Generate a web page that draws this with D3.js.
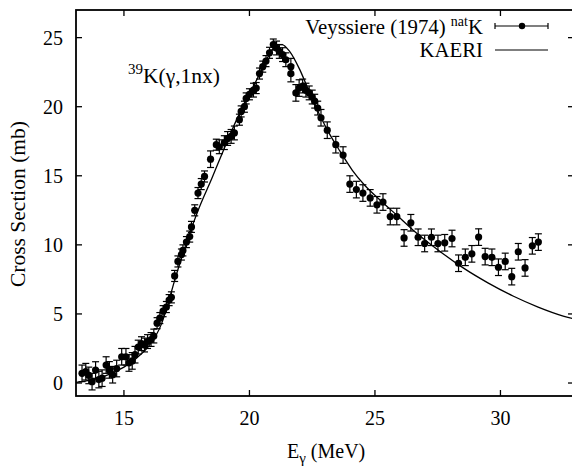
<!DOCTYPE html>
<html>
<head>
<meta charset="utf-8">
<script src="https://cdn.jsdelivr.net/npm/d3@7"></script>
<style>
  body { margin: 0; background: #fff; }
  svg text { font-family: "Liberation Serif", "Times New Roman", serif; fill: #000; }
</style>
</head>
<body>
<svg id="chart" width="572" height="468"></svg>
<script>

// Veyssiere (1974) natK data
var expEnergy = [13.33, 13.48, 13.60, 13.73, 13.87, 14.00, 14.13, 14.29, 14.42, 14.55,
  14.71, 14.91, 15.08, 15.20, 15.33, 15.44, 15.57, 15.70, 15.82, 15.94,
  16.08, 16.19, 16.32, 16.43, 16.56, 16.69, 16.80, 16.89, 17.02, 17.15,
  17.29, 17.35, 17.49, 17.62, 17.69, 17.82, 17.95, 18.08, 18.21, 18.45,
  18.68, 18.80, 19.00, 19.13, 19.27, 19.40, 19.60, 19.67, 19.80, 19.87,
  20.00, 20.16, 20.27, 20.40, 20.53, 20.66, 20.80, 20.95, 21.08, 21.19,
  21.32, 21.45, 21.65, 21.65, 21.85, 21.98, 22.12, 22.25, 22.38, 22.50,
  22.60, 22.72, 22.85, 23.10, 23.44, 23.73, 24.00, 24.26, 24.52, 24.81,
  25.08, 25.32, 25.61, 25.87, 26.16, 26.43, 26.72, 26.98, 27.25, 27.51,
  27.78, 28.07, 28.33, 28.60, 28.86, 29.13, 29.39, 29.66, 29.92, 30.19,
  30.45, 30.71, 30.98, 31.27, 31.51];
var expSigma = [0.70, 0.82, 0.55, 0.10, 0.94, 0.25, 0.35, 1.30, 0.95, 0.60,
  1.05, 1.90, 1.90, 1.45, 1.60, 2.05, 2.60, 2.85, 2.75, 3.00,
  3.15, 3.40, 4.33, 4.70, 5.20, 5.50, 6.00, 6.20, 7.75, 8.80,
  9.30, 9.60, 10.20, 10.60, 11.30, 12.50, 13.75, 14.40, 14.95, 16.20,
  17.25, 17.10, 17.40, 17.70, 17.85, 18.10, 19.06, 19.66, 20.00, 20.60,
  20.90, 21.20, 21.35, 22.40, 22.90, 23.30, 23.90, 24.50, 24.25, 24.00,
  23.77, 23.40, 22.90, 22.40, 21.00, 21.35, 21.50, 21.20, 21.00, 20.70,
  20.40, 19.90, 19.20, 18.30, 17.25, 16.50, 14.40, 14.00, 13.75, 13.40,
  12.90, 13.10, 12.05, 12.05, 10.50, 11.60, 10.55, 10.10, 10.55, 10.10,
  10.15, 10.46, 8.67, 9.10, 9.35, 10.56, 9.15, 9.10, 8.38, 8.80,
  7.70, 9.50, 8.33, 9.93, 10.20];
var expError = [0.6, 0.6, 0.6, 0.6, 0.6, 0.6, 0.6, 0.6, 0.6, 0.6,
  0.6, 0.6, 0.6, 0.6, 0.6, 0.6, 0.5, 0.5, 0.5, 0.5,
  0.5, 0.5, 0.4, 0.4, 0.4, 0.4, 0.4, 0.4, 0.4, 0.4,
  0.4, 0.4, 0.4, 0.4, 0.4, 0.4, 0.4, 0.4, 0.4, 0.6,
  0.4, 0.5, 0.5, 0.5, 0.5, 0.5, 0.4, 0.4, 0.4, 0.4,
  0.4, 0.5, 0.4, 0.4, 0.4, 0.4, 0.4, 0.4, 0.5, 0.5,
  0.5, 0.5, 0.6, 0.6, 0.6, 0.6, 0.5, 0.5, 0.5, 0.5,
  0.5, 0.5, 0.6, 0.6, 0.6, 0.6, 0.6, 0.6, 0.6, 0.6,
  0.6, 0.6, 0.6, 0.6, 0.6, 0.6, 0.6, 0.6, 0.6, 0.6,
  0.6, 0.6, 0.6, 0.6, 0.6, 0.6, 0.6, 0.6, 0.6, 0.6,
  0.6, 0.6, 0.6, 0.6, 0.6];

// KAERI evaluation
var kaeriEnergy = [13.09, 13.5, 14.0, 14.5, 15.0, 15.5, 16.0, 16.5, 16.75, 17.0,
  17.25, 17.5, 17.75, 18.0, 18.5, 19.0, 19.5, 20.0, 20.5, 20.8,
  21.1, 21.3, 21.6, 22.0, 22.4, 22.8, 23.2, 23.6, 24.1, 24.6,
  25.2, 25.9, 26.5, 27.5, 28.5, 29.5, 30.5, 31.5, 32.5, 32.9];
var kaeriSigma = [0.05, 0.15, 0.35, 0.7, 1.15, 1.8, 2.7, 4.3, 5.7, 7.3,
  8.8, 10.2, 11.5, 12.7, 14.8, 17.0, 19.1, 20.9, 22.7, 23.8,
  24.5, 24.5, 24.0, 22.7, 21.0, 19.4, 18.0, 16.8, 15.4, 14.3,
  13.25, 12.1, 11.1, 9.65, 8.35, 7.25, 6.3, 5.5, 4.85, 4.65];

var xTicks = [15, 20, 25, 30];
var yTicks = [0, 5, 10, 15, 20, 25];

var svg = d3.select("#chart");

var plotL = 76, plotR = 574, plotT = 10, plotB = 396;

var x = d3.scaleLinear().domain([13.09, 32.93]).range([plotL, plotR]);
var y = d3.scaleLinear().domain([-0.94, 27.0]).range([plotB, plotT]);

// ticks on all four sides, pointing inward
var tickLen = 6;
var ticks = svg.append("g").attr("stroke", "#000").attr("stroke-width", 1.3);
xTicks.forEach(function(t) {
  ticks.append("line").attr("x1", x(t)).attr("x2", x(t)).attr("y1", plotB).attr("y2", plotB - tickLen);
  ticks.append("line").attr("x1", x(t)).attr("x2", x(t)).attr("y1", plotT).attr("y2", plotT + tickLen);
});
yTicks.forEach(function(t) {
  ticks.append("line").attr("x1", plotL).attr("x2", plotL + tickLen).attr("y1", y(t)).attr("y2", y(t));
  ticks.append("line").attr("x1", plotR).attr("x2", plotR - tickLen).attr("y1", y(t)).attr("y2", y(t));
});

svg.append("rect")
  .attr("x", plotL).attr("y", plotT)
  .attr("width", plotR - plotL).attr("height", plotB - plotT)
  .attr("fill", "none").attr("stroke", "#000").attr("stroke-width", 1.8);

svg.selectAll(".xlab").data(xTicks).enter().append("text")
  .attr("x", function(d) { return x(d); })
  .attr("y", plotB + 29)
  .attr("text-anchor", "middle")
  .style("font-size", "20px")
  .text(function(d) { return d; });

svg.selectAll(".ylab").data(yTicks).enter().append("text")
  .attr("x", plotL - 13)
  .attr("y", function(d) { return y(d) + 7; })
  .attr("text-anchor", "end")
  .style("font-size", "20px")
  .text(function(d) { return d; });

// axis titles
var xt = svg.append("text")
  .attr("x", 287).attr("y", 458)
  .style("font-size", "20px");
xt.append("tspan").text("E");
xt.append("tspan").attr("dy", 5).style("font-size", "15px").text("γ");
xt.append("tspan").attr("dy", -5).text(" (MeV)");

svg.append("text")
  .attr("transform", "translate(25,204) rotate(-90)")
  .attr("text-anchor", "middle")
  .style("font-size", "21.5px")
  .text("Cross Section (mb)");

// reaction label
var rl = svg.append("text").attr("x", 128).attr("y", 83).style("font-size", "21.5px");
rl.append("tspan").attr("dy", -9).style("font-size", "15px").text("39");
rl.append("tspan").attr("dy", 9).text("K(γ,1nx)");

// KAERI curve
var kaeri = kaeriEnergy.map(function(e, i) { return [e, kaeriSigma[i]]; });
var line = d3.line()
  .x(function(d) { return x(d[0]); })
  .y(function(d) { return y(d[1]); })
  .curve(d3.curveMonotoneX);

svg.append("path")
  .datum(kaeri)
  .attr("d", line)
  .attr("fill", "none")
  .attr("stroke", "#000")
  .attr("stroke-width", 1.3);

// experimental points with error bars
var pts = expEnergy.map(function(e, i) { return { e: e, s: expSigma[i], err: expError[i] }; });
var cap = 3.5;
var bars = svg.append("g").attr("stroke", "#000").attr("stroke-width", 1.2);
var pg = bars.selectAll("g").data(pts).enter().append("g");
pg.append("line")
  .attr("x1", function(d) { return x(d.e); }).attr("x2", function(d) { return x(d.e); })
  .attr("y1", function(d) { return y(d.s - d.err); }).attr("y2", function(d) { return y(d.s + d.err); });
pg.append("line")
  .attr("x1", function(d) { return x(d.e) - cap; }).attr("x2", function(d) { return x(d.e) + cap; })
  .attr("y1", function(d) { return y(d.s - d.err); }).attr("y2", function(d) { return y(d.s - d.err); });
pg.append("line")
  .attr("x1", function(d) { return x(d.e) - cap; }).attr("x2", function(d) { return x(d.e) + cap; })
  .attr("y1", function(d) { return y(d.s + d.err); }).attr("y2", function(d) { return y(d.s + d.err); });

svg.append("g").selectAll("circle").data(pts).enter().append("circle")
  .attr("cx", function(d) { return x(d.e); })
  .attr("cy", function(d) { return y(d.s); })
  .attr("r", 3.6)
  .attr("fill", "#000");

// legend
var lg = svg.append("g");
var l1 = lg.append("text").attr("x", 483).attr("y", 34).attr("text-anchor", "end").style("font-size", "20.8px");
l1.append("tspan").text("Veyssiere (1974) ");
l1.append("tspan").attr("dy", -8).style("font-size", "14px").text("nat");
l1.append("tspan").attr("dy", 8).text("K");
lg.append("text").attr("x", 483).attr("y", 57).attr("text-anchor", "end").style("font-size", "20.8px").text("KAERI");

lg.append("line").attr("x1", 495).attr("x2", 548).attr("y1", 26).attr("y2", 26).attr("stroke", "#000").attr("stroke-width", 1.2);
lg.append("line").attr("x1", 495).attr("x2", 495).attr("y1", 23).attr("y2", 29).attr("stroke", "#000").attr("stroke-width", 1.2);
lg.append("line").attr("x1", 548).attr("x2", 548).attr("y1", 23).attr("y2", 29).attr("stroke", "#000").attr("stroke-width", 1.2);
lg.append("circle").attr("cx", 522).attr("cy", 26).attr("r", 3.2).attr("fill", "#000");
lg.append("line").attr("x1", 495).attr("x2", 548).attr("y1", 50).attr("y2", 50).attr("stroke", "#000").attr("stroke-width", 1.2);

</script>
</body>
</html>
